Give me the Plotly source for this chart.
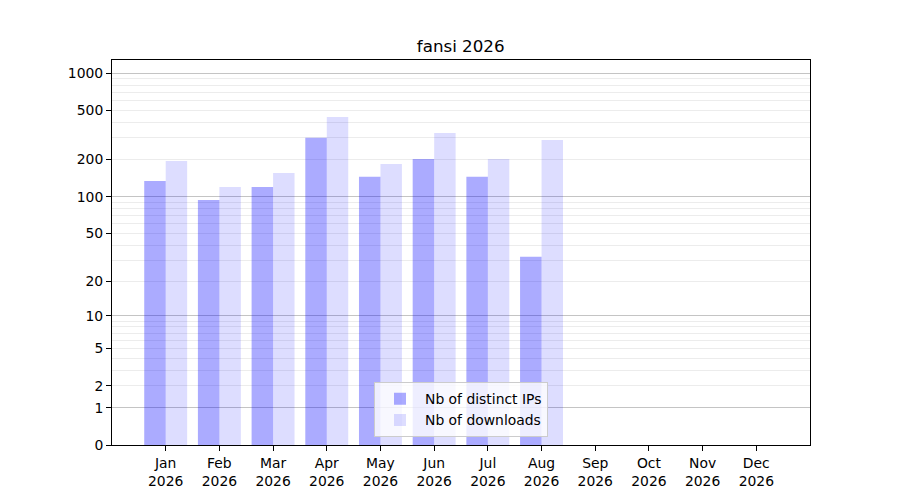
import numpy as np
import plotly.graph_objects as go

# monthly stats, 2026
months = ["Jan", "Feb", "Mar", "Apr", "May", "Jun", "Jul", "Aug", "Sep", "Oct", "Nov", "Dec"]
year = "2026"
distinct_ips = [134, 94, 120, 300, 145, 202, 145, 32, 0, 0, 0, 0]
downloads = [195, 120, 156, 443, 184, 329, 202, 289, 0, 0, 0, 0]
tick_values = [0, 1, 2, 5, 10, 20, 50, 100, 200, 500, 1000]
major_grid = [1, 10, 100, 1000]


def fwd(v):
    # y scale is log10(1 + v)
    return np.log10(1 + np.asarray(v, dtype=float))


minor_vals = [m * 10 ** d for d in range(0, 3) for m in range(2, 10)]

x = list(range(len(months)))
ticktext = [f"{m}<br>{year}" for m in months]

fig = go.Figure()
fig.add_trace(go.Bar(x=x, y=fwd(distinct_ips), name="Nb of distinct IPs",
                     marker=dict(color="rgba(0,0,255,0.33)", line_width=0),
                     customdata=distinct_ips, hovertemplate="%{customdata}"))
fig.add_trace(go.Bar(x=x, y=fwd(downloads), name="Nb of downloads",
                     marker=dict(color="rgba(0,0,255,0.135)", line_width=0),
                     customdata=downloads, hovertemplate="%{customdata}"))

font = "DejaVu Sans"
fig.update_layout(
    width=900, height=500,
    margin=dict(l=104, r=98, t=52, b=63),
    paper_bgcolor="white", plot_bgcolor="white",
    font=dict(family=font, size=13.9, color="black"),
    title=dict(text="fansi 2026", x=0.503, xanchor="center", y=0.924, yanchor="middle",
               font=dict(size=16.7)),
    barmode="group", bargap=0.2, bargroupgap=0,
    showlegend=True,
    legend=dict(x=0.5, y=0.02, xanchor="center", yanchor="bottom",
                bgcolor="rgba(255,255,255,0.8)", bordercolor="#cccccc", borderwidth=1,
                font=dict(size=13.9), tracegroupgap=0, itemwidth=40),
    xaxis=dict(range=[-1.0, 12.0], tickvals=x, ticktext=ticktext,
               showgrid=False, showline=True, linecolor="black", linewidth=1, mirror=True,
               ticks="outside", ticklen=5, tickcolor="black", zeroline=False),
    yaxis=dict(range=[0, 3.107], tickvals=fwd(tick_values).tolist(),
               ticktext=[str(v) for v in tick_values],
               showgrid=True, gridcolor="#ececec", gridwidth=1,
               minor=dict(tickvals=fwd(minor_vals).tolist(), showgrid=True,
                          gridcolor="#ececec", gridwidth=1, ticks=""),
               showline=True, linecolor="black", linewidth=1, mirror=True,
               ticks="outside", ticklen=5, tickcolor="black", zeroline=False),
    yaxis2=dict(range=[0, 3.107], overlaying="y", tickvals=fwd(major_grid).tolist(),
                showticklabels=False, showgrid=True, gridcolor="#c4c4c4", gridwidth=1,
                zeroline=False, showline=False),
)
# dummy invisible trace so yaxis2 gets drawn
fig.add_trace(go.Scatter(x=[0], y=[0], yaxis="y2", mode="markers",
                         marker=dict(opacity=0), showlegend=False, hoverinfo="skip"))

fig.write_html("out.html")
